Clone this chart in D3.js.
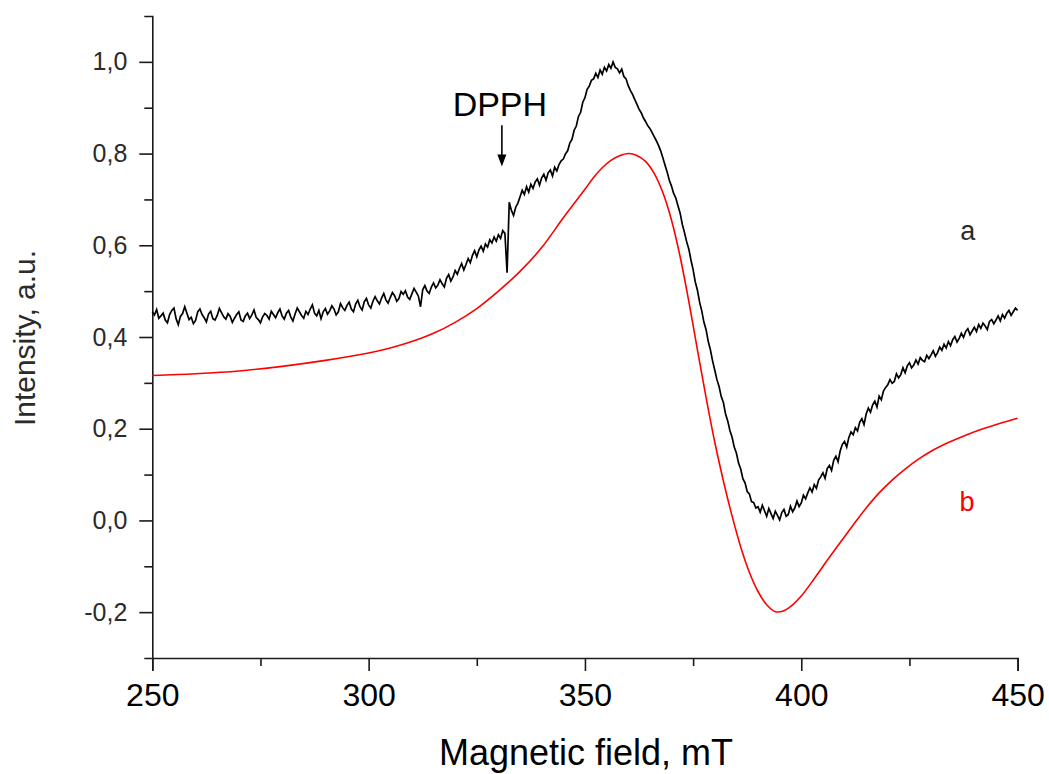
<!DOCTYPE html>
<html>
<head>
<meta charset="utf-8">
<script src="https://cdn.jsdelivr.net/npm/d3@7"></script>
<style>
  html, body { margin: 0; padding: 0; background: #fff; }
  svg { display: block; }
  text { font-family: "Liberation Sans", Arial, sans-serif; }
</style>
</head>
<body>
<svg id="chart" width="1049" height="774"></svg>
<script>
// ---------- data ----------
const xDomain = [250, 450];
const yDomain = [-0.3, 1.1];
const xMajorTicks = [250, 300, 350, 400, 450];
const xMinorTicks = [275, 325, 375, 425];
const yMajorTicks = [-0.2, 0.0, 0.2, 0.4, 0.6, 0.8, 1.0];
const yMinorTicks = [-0.1, 0.1, 0.3, 0.5, 0.7, 0.9];

// curve a: measured spectrum, sampled every 0.5 mT from 250 to 450 mT
const spectrumStart = 250;
const spectrumStep = 0.5;
const spectrumA = [
  0.455, 0.448, 0.460, 0.441, 0.446, 0.452, 0.437, 0.431, 0.449, 0.458,
  0.463, 0.440, 0.427, 0.445, 0.451, 0.466, 0.452, 0.438, 0.443, 0.429,
  0.436, 0.455, 0.461, 0.449, 0.442, 0.433, 0.450, 0.456, 0.440, 0.437,
  0.447, 0.462, 0.453, 0.444, 0.439, 0.451, 0.445, 0.432, 0.441, 0.449,
  0.455, 0.437, 0.434, 0.446, 0.452, 0.440, 0.448, 0.459, 0.443, 0.438,
  0.431, 0.444, 0.451, 0.447, 0.439, 0.456, 0.449, 0.442, 0.453, 0.461,
  0.446, 0.439, 0.452, 0.458, 0.444, 0.435, 0.450, 0.463, 0.455, 0.447,
  0.441, 0.456, 0.449, 0.461, 0.470, 0.452, 0.446, 0.458, 0.440, 0.455,
  0.462, 0.450, 0.457, 0.468, 0.461, 0.448, 0.455, 0.473, 0.464, 0.458,
  0.469, 0.476, 0.461, 0.455, 0.472, 0.480, 0.466, 0.459, 0.477, 0.484,
  0.470, 0.463, 0.478, 0.488, 0.479, 0.472, 0.485, 0.495, 0.481, 0.474,
  0.486, 0.497, 0.490, 0.478, 0.484, 0.499, 0.493, 0.501, 0.487, 0.482,
  0.494, 0.506, 0.498, 0.489, 0.466, 0.503, 0.512, 0.500, 0.495, 0.509,
  0.518, 0.507, 0.513, 0.525, 0.516, 0.509, 0.528, 0.536, 0.522, 0.531,
  0.545, 0.537, 0.550, 0.560, 0.546, 0.558, 0.571, 0.562, 0.578, 0.588,
  0.575, 0.590, 0.598, 0.587, 0.603, 0.596, 0.612, 0.605, 0.618, 0.609,
  0.623, 0.615, 0.632, 0.626, 0.540, 0.694, 0.676, 0.665, 0.683, 0.692,
  0.706, 0.720, 0.711, 0.728, 0.716, 0.733, 0.724, 0.738, 0.745, 0.731,
  0.747, 0.755, 0.742, 0.758, 0.764, 0.751, 0.770, 0.762, 0.776, 0.784,
  0.788, 0.799, 0.806, 0.823, 0.831, 0.851, 0.860, 0.881, 0.890, 0.912,
  0.922, 0.940, 0.947, 0.960, 0.963, 0.975, 0.966, 0.982, 0.973, 0.988,
  0.980, 0.994, 0.986, 1.000, 0.988, 0.985, 0.976, 0.984, 0.968, 0.963,
  0.948, 0.938, 0.929, 0.918, 0.908, 0.897, 0.889, 0.878, 0.870, 0.861,
  0.855, 0.846, 0.837, 0.828, 0.818, 0.806, 0.791, 0.775, 0.760, 0.742,
  0.729, 0.713, 0.703, 0.686, 0.670, 0.646, 0.628, 0.608, 0.592, 0.568,
  0.547, 0.520, 0.502, 0.476, 0.457, 0.432, 0.416, 0.390, 0.372, 0.348,
  0.328, 0.307, 0.292, 0.270, 0.257, 0.232, 0.217, 0.196, 0.182, 0.160,
  0.147, 0.125, 0.112, 0.091, 0.082, 0.063, 0.058, 0.041, 0.039, 0.027,
  0.030, 0.018, 0.033, 0.021, 0.009, 0.026, 0.015, 0.004, 0.020, 0.011,
  0.001, 0.017, 0.024, 0.009, 0.013, 0.031, 0.019, 0.027, 0.042, 0.030,
  0.038, 0.055, 0.047, 0.060, 0.071, 0.062, 0.078, 0.070, 0.088, 0.095,
  0.104, 0.092, 0.113, 0.120, 0.109, 0.131, 0.140, 0.128, 0.152, 0.166,
  0.172, 0.160, 0.181, 0.193, 0.187, 0.202, 0.195, 0.214, 0.222, 0.209,
  0.232, 0.245, 0.236, 0.252, 0.260, 0.247, 0.271, 0.263, 0.282, 0.290,
  0.296, 0.307, 0.299, 0.303, 0.320, 0.311, 0.318, 0.333, 0.322, 0.337,
  0.344, 0.333, 0.339, 0.350, 0.341, 0.355, 0.349, 0.346, 0.360, 0.353,
  0.361, 0.370, 0.358, 0.366, 0.378, 0.371, 0.384, 0.376, 0.390, 0.381,
  0.394, 0.401, 0.389, 0.397, 0.408, 0.399, 0.412, 0.418, 0.405, 0.413,
  0.421, 0.412, 0.427, 0.419, 0.430, 0.424, 0.416, 0.434, 0.438, 0.429,
  0.437, 0.446, 0.435, 0.449, 0.441, 0.452, 0.458, 0.447, 0.455, 0.463,
  0.458
];

// curve b: simulated spectrum
const fieldB = [250,260,270,280,290,300,305,310,315,320,325,330,335,340,345,350,352,354,356,358,360,
  362,364,366,368,370,372,374,376,378,380,382,384,386,388,390,392,394,396,398,400,
  403,406,409,412,415,418,421,424,427,430,434,438,442,446,450];
const spectrumB = [0.316,0.320,0.326,0.336,0.349,0.365,0.376,0.390,0.408,0.432,0.462,0.500,0.543,0.595,0.660,0.722,0.748,0.769,0.785,0.795,0.800,
  0.796,0.783,0.757,0.715,0.655,0.575,0.478,0.372,0.268,0.171,0.086,0.010,-0.058,-0.113,-0.155,-0.184,-0.199,-0.197,-0.184,-0.165,
  -0.127,-0.087,-0.048,-0.010,0.027,0.060,0.088,0.112,0.133,0.151,0.170,0.186,0.200,0.212,0.223];

// annotation (data coordinates)
const dpphField = 330.8;
const dpphArrowFrom = 0.862;
const dpphArrowTo = 0.772;
const dpphLabelY = 0.881;
const labelA = { text: "a", field: 438.5, value: 0.612 };
const labelB = { text: "b", field: 438.3, value: 0.02 };

// ---------- drawing ----------
const svg = d3.select("#chart");
const x = d3.scaleLinear().domain(xDomain).range([152.3, 1017.6]);
const y = d3.scaleLinear().domain(yDomain).range([658, 16]);
const fmt = v => d3.format(".1f")(v).replace(".", ",").replace("−", "-");
const axisColor = "#1a1a1a";

// x axis
const gx = svg.append("g").attr("transform", `translate(0,${y(-0.3)})`)
  .call(d3.axisBottom(x).tickValues(xMajorTicks).tickSize(13).tickSizeOuter(13).tickPadding(12)
    .tickFormat(d3.format("d")));
gx.selectAll("text").attr("font-size", 32).attr("fill", "#000").attr("dy", "0.71em");
svg.append("g").attr("transform", `translate(0,${y(-0.3)})`)
  .call(d3.axisBottom(x).tickValues(xMinorTicks).tickSize(8).tickFormat(""))
  .call(g => g.select(".domain").remove());

// y axis
const gy = svg.append("g").attr("transform", `translate(${x(250)},0)`)
  .call(d3.axisLeft(y).tickValues(yMajorTicks).tickSize(13).tickSizeOuter(8).tickPadding(12)
    .tickFormat(fmt));
gy.selectAll("text").attr("font-size", 25).attr("fill", "#2b2b2b");
svg.append("g").attr("transform", `translate(${x(250)},0)`)
  .call(d3.axisLeft(y).tickValues(yMinorTicks).tickSize(8).tickFormat(""))
  .call(g => g.select(".domain").remove());

svg.selectAll(".domain, .tick line").attr("stroke", axisColor).attr("stroke-width", 1.6);

// axis titles
svg.append("text").attr("x", 586).attr("y", 765).attr("text-anchor", "middle")
  .attr("font-size", 36).attr("fill", "#000").text("Magnetic field, mT");
svg.append("text").attr("transform", "translate(35,338) rotate(-90)").attr("text-anchor", "middle")
  .attr("font-size", 30).attr("fill", "#2b2b2b").text("Intensity, a.u.");

// curves
const dataA = spectrumA.map((v, i) => [spectrumStart + i * spectrumStep, v]);
const dataB = fieldB.map((f, i) => [f, spectrumB[i]]);

svg.append("path").datum(dataB)
  .attr("fill", "none").attr("stroke", "#ff0000").attr("stroke-width", 1.6)
  .attr("d", d3.line().x(d => x(d[0])).y(d => y(d[1])).curve(d3.curveCatmullRom.alpha(0.5)));

svg.append("path").datum(dataA)
  .attr("fill", "none").attr("stroke", "#000").attr("stroke-width", 1.7)
  .attr("stroke-linejoin", "miter")
  .attr("d", d3.line().x(d => x(d[0])).y(d => y(d[1])));

// DPPH annotation
svg.append("text").attr("x", x(dpphField) - 2).attr("y", y(dpphLabelY)).attr("text-anchor", "middle")
  .attr("font-size", 34).attr("fill", "#000").text("DPPH");
const ax = x(dpphField), ay0 = y(dpphArrowFrom), ay1 = y(dpphArrowTo);
svg.append("line").attr("x1", ax).attr("x2", ax).attr("y1", ay0).attr("y2", ay1 - 6)
  .attr("stroke", "#000").attr("stroke-width", 1.6);
svg.append("path").attr("d", `M${ax - 4.5},${ay1 - 12}L${ax + 4.5},${ay1 - 12}L${ax},${ay1}Z`).attr("fill", "#000");

// curve labels
svg.append("text").attr("x", x(labelA.field)).attr("y", y(labelA.value)).attr("text-anchor", "middle")
  .attr("font-size", 27).attr("fill", "#2b2b2b").text(labelA.text);
svg.append("text").attr("x", x(labelB.field)).attr("y", y(labelB.value)).attr("text-anchor", "middle")
  .attr("font-size", 27).attr("fill", "#ff0000").text(labelB.text);
</script>
</body>
</html>
